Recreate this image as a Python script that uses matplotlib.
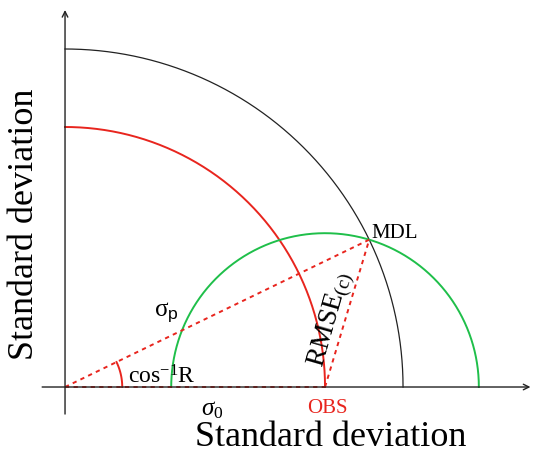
import numpy as np
import matplotlib
matplotlib.use("Agg")
import matplotlib.pyplot as plt

plt.rcParams['font.family'] = ['Liberation Serif', 'DejaVu Serif']
plt.rcParams['mathtext.fontset'] = 'custom'
plt.rcParams['mathtext.rm'] = 'Liberation Serif'
plt.rcParams['mathtext.it'] = 'Liberation Serif:italic'
plt.rcParams['mathtext.sf'] = 'Liberation Sans'

# schematic Taylor diagram values
sigma_obs = 1.0
sigma_mdl = 1.3
corr = 0.9

theta = np.arccos(corr)
mdl_x = sigma_mdl * np.cos(theta)
mdl_y = sigma_mdl * np.sin(theta)
rmse_c = np.sqrt(sigma_obs**2 + sigma_mdl**2 - 2 * sigma_obs * sigma_mdl * corr)

fig = plt.figure(figsize=(5.38, 4.56), dpi=100)
ax = fig.add_axes([0, 0, 1, 1])
ax.set_xlim(-0.25, 1.819)
ax.set_ylim(-0.2615, 1.4923)
ax.set_aspect('equal')
ax.axis('off')

red = '#e8251e'
green = '#1fbf4a'
black = '#222222'

# axes with arrows
ax.annotate('', xy=(1.79, 0), xytext=(-0.088, 0),
            arrowprops=dict(arrowstyle='->', color=black, lw=1.0, shrinkA=0, shrinkB=0))
ax.annotate('', xy=(0, 1.45), xytext=(0, -0.104),
            arrowprops=dict(arrowstyle='->', color=black, lw=1.0, shrinkA=0, shrinkB=0))

# arcs
t = np.linspace(0, np.pi / 2, 300)
ax.plot(sigma_mdl * np.cos(t), sigma_mdl * np.sin(t), color=black, lw=0.9)
ax.plot(sigma_obs * np.cos(t), sigma_obs * np.sin(t), color=red, lw=1.4)
g = np.linspace(0, np.pi, 400)
ax.plot(sigma_obs + rmse_c * np.cos(g), rmse_c * np.sin(g), color=green, lw=1.4)

# dashed triangle
dash = (0, (2.2, 2.2))
ax.plot([0, sigma_obs], [0, 0], color=red, lw=1.4, linestyle=dash)
ax.plot([0, mdl_x], [0, mdl_y], color=red, lw=1.4, linestyle=dash)
ax.plot([sigma_obs, mdl_x], [0, mdl_y], color=red, lw=1.4, linestyle=dash)

# angle arc
a = np.linspace(0, theta, 50)
ax.plot(0.22 * np.cos(a), 0.22 * np.sin(a), color=red, lw=1.4)

# labels
ax.text(1.177, 0.596, 'MDL', fontsize=15, ha='left', va='center')
ax.text(1.008, -0.077, 'OBS', fontsize=15, color=red, ha='center', va='center')
ax.text(0.565, -0.085, r'$\mathit{\sigma_0}$', fontsize=18, ha='center', va='center')
ax.text(0.39, 0.29, r'$\mathrm{\sigma}_{\mathsf{p}}$', fontsize=18, ha='center', va='center')
ax.text(0.373, 0.019, r'$\mathrm{cos}^{\mathrm{-1}}\mathrm{R}$', fontsize=17,
        ha='center', va='baseline')
ax.text(1.025, 0.265, r'$\mathrm{RMSE}_{(\mathrm{c})}$', fontsize=20, rotation=74,
        ha='center', va='center', rotation_mode='anchor')

ax.text(1.02, -0.19, 'Standard deviation', fontsize=26, ha='center', va='center')
ax.text(-0.155, 0.63, 'Standard deviation', fontsize=26, ha='center', va='center',
        rotation=90)

fig.savefig('out.png', dpi=100)
